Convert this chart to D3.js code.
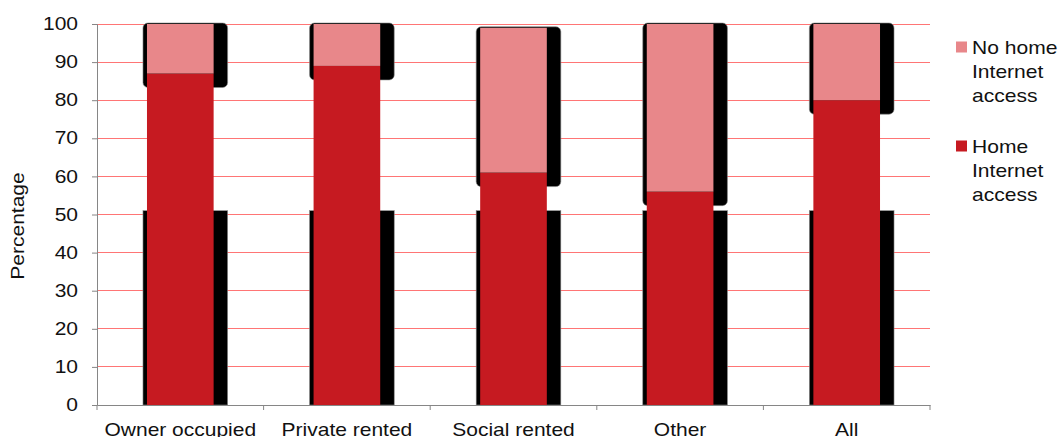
<!DOCTYPE html>
<html>
<head>
<meta charset="utf-8">
<script src="https://cdn.jsdelivr.net/npm/d3@7"></script>
<style>
  html, body { margin: 0; padding: 0; background: #fff; }
  svg { display: block; font-family: "Liberation Sans", Arial, sans-serif; }
</style>
</head>
<body>
<svg id="chart" width="1059" height="437"></svg>
<script>
const categories = ["Owner occupied", "Private rented", "Social rented", "Other", "All"];
const homeAccess = [87, 89, 61, 56, 80];
const noHomeAccess = [13, 11, 38, 44, 20];
const yTicks = [0, 10, 20, 30, 40, 50, 60, 70, 80, 90, 100];
const seriesNames = ["No home Internet access", "Home Internet access"];
const seriesColors = ["#e8878a", "#c61a21"];
const shadowFloor = 51;

const svg = d3.select("#chart");
const plotLeft = 97, plotRight = 930, plotTop = 24, plotBottom = 405;
const fontSize = 17.5, stretch = 1.2;

// widen glyphs along the baseline, keeping the anchor point fixed
function widen(sel, s) {
  sel.each(function () {
    const t = d3.select(this);
    const ax = +t.attr("x") || 0;
    t.attr("transform", `translate(${ax},0) scale(${s},1) translate(${-ax},0)`);
  });
}

const x = d3.scaleBand().domain(categories).range([plotLeft, plotRight]).paddingInner(0.6).paddingOuter(0.3);
const y = d3.scaleLinear().domain([0, 100]).range([plotBottom, plotTop]);

// horizontal gridlines
svg.append("g").selectAll("line").data(yTicks.filter(d => d > 0)).join("line")
  .attr("x1", plotLeft).attr("x2", plotRight)
  .attr("y1", d => y(d)).attr("y2", d => y(d))
  .attr("stroke", "#ff7575").attr("stroke-width", 1).attr("shape-rendering", "crispEdges");

const rows = categories.map((c, i) => ({ c, home: homeAccess[i], none: noHomeAccess[i] }));

// drop shadows behind the bars
const sh = svg.append("g");
rows.forEach(r => {
  const x0 = x(r.c) - 4, w = x.bandwidth() + 18;
  const topY = y(r.home + r.none) - 1;
  const botY = y(r.home) + 14;
  sh.append("rect").attr("x", x0).attr("y", topY).attr("width", w).attr("height", botY - topY)
    .attr("rx", 5).attr("fill", "#000").attr("stroke", "#888").attr("stroke-width", 0.6);
  sh.append("rect").attr("x", x0).attr("y", y(shadowFloor)).attr("width", w)
    .attr("height", y(0) - y(shadowFloor))
    .attr("fill", "#000").attr("stroke", "#888").attr("stroke-width", 0.6);
});

// stacked bars
const bars = svg.append("g");
rows.forEach(r => {
  bars.append("rect").attr("x", x(r.c)).attr("y", y(r.home)).attr("width", x.bandwidth())
    .attr("height", y(0) - y(r.home)).attr("fill", seriesColors[1]);
  bars.append("rect").attr("x", x(r.c)).attr("y", y(r.home + r.none)).attr("width", x.bandwidth())
    .attr("height", y(r.home) - y(r.home + r.none)).attr("fill", seriesColors[0]);
});

// y axis
const yAxis = svg.append("g").attr("transform", `translate(${plotLeft},0)`)
  .call(d3.axisLeft(y).tickValues(yTicks).tickSize(5).tickPadding(14));
yAxis.select(".domain").attr("stroke", "#868686");
yAxis.selectAll(".tick line").attr("stroke", "#868686");
yAxis.selectAll("text").attr("font-size", fontSize).attr("fill", "#111")
  .attr("font-family", "Liberation Sans, Arial, sans-serif").call(widen, stretch);

// x axis
const xAxis = svg.append("g").attr("transform", `translate(0,${plotBottom})`)
  .call(d3.axisBottom(x).tickSize(0).tickPadding(19));
xAxis.select(".domain").attr("stroke", "#868686");
xAxis.selectAll("text").attr("font-size", fontSize).attr("fill", "#111")
  .attr("font-family", "Liberation Sans, Arial, sans-serif").call(widen, stretch);
const bounds = d3.range(categories.length + 1).map(i => plotLeft + i * (plotRight - plotLeft) / categories.length);
xAxis.append("g").selectAll("line").data(bounds).join("line")
  .attr("x1", d => d).attr("x2", d => d).attr("y1", 0).attr("y2", 5)
  .attr("stroke", "#868686");

// axis title
svg.append("g").attr("transform", "translate(24,226) rotate(-90)")
  .append("text").attr("x", 0).attr("y", 0)
  .attr("text-anchor", "middle").attr("font-size", fontSize).attr("fill", "#111")
  .text("Percentage").call(widen, stretch);

// legend
const legendLines = [["No home", "Internet", "access"], ["Home", "Internet", "access"]];
const legend = svg.append("g");
legendLines.forEach((lines, i) => {
  const baseY = 54.5 + i * 99;
  legend.append("rect").attr("x", 956).attr("y", baseY - 13).attr("width", 11).attr("height", 11)
    .attr("fill", seriesColors[i]);
  lines.forEach((l, j) => {
    legend.append("text").attr("x", 972).attr("y", baseY + j * 24)
      .attr("font-size", 18).attr("fill", "#111").text(l).call(widen, 1.17);
  });
});
</script>
</body>
</html>
